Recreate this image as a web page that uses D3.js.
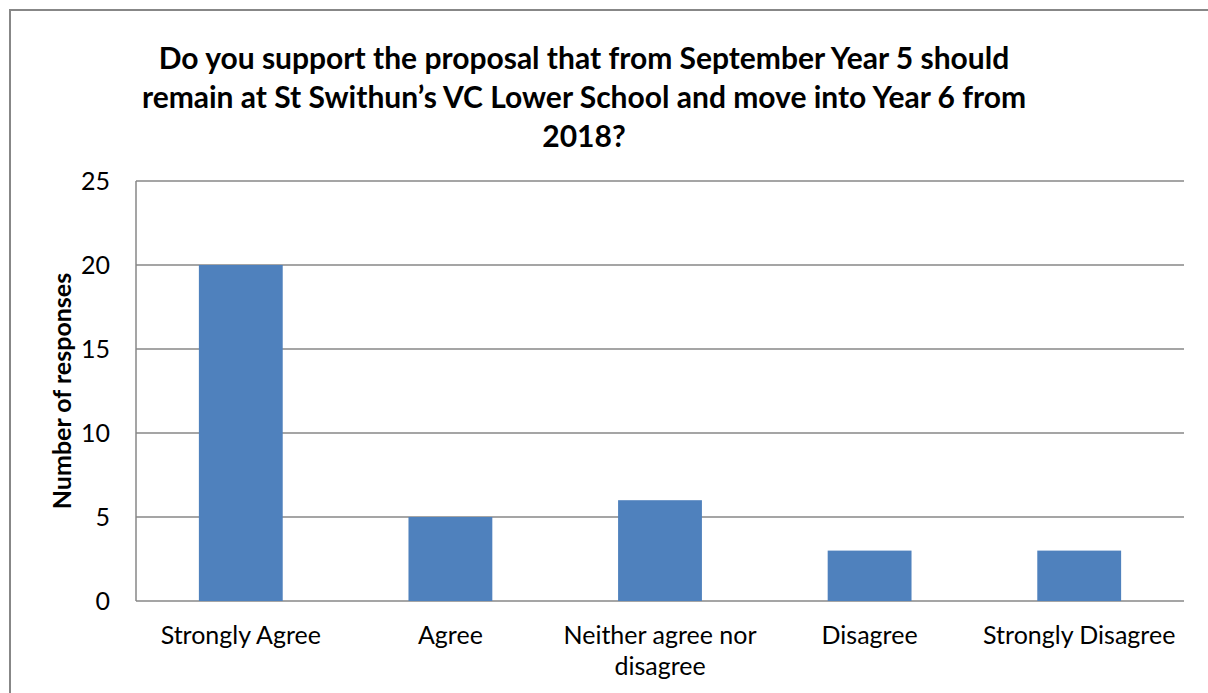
<!DOCTYPE html>
<html>
<head>
<meta charset="utf-8">
<script src="https://cdn.jsdelivr.net/npm/d3@7"></script>
<style>
  body { margin: 0; background: #fff; }
  svg { display: block; }
  text { font-family: Lato, "Noto Sans", sans-serif; fill: #000; }
</style>
</head>
<body>
<svg id="chart" width="1208" height="693"></svg>
<script>
// data
const categories = ["Strongly Agree", "Agree", "Neither agree nor disagree", "Disagree", "Strongly Disagree"];
const responses = [20, 5, 6, 3, 3];
const yTicks = [0, 5, 10, 15, 20, 25];
const titleLines = [
  "Do you support the proposal that from September Year 5 should",
  "remain at St Swithun\u2019s VC Lower School and move into Year 6 from",
  "2018?"
];
const yTitle = "Number of responses";

const svg = d3.select("#chart");
const W = 1208, H = 693;
const plot = { left: 136, right: 1184, top: 181, bottom: 601 };
const gridColor = "#878787";
const barColor = "#4F81BD";

//outer frame (runs off the right and bottom of the picture)
svg.append("rect")
  .attr("x", 10).attr("y", 10)
  .attr("width", W + 20).attr("height", H + 20)
  .attr("fill", "none")
  .attr("stroke", gridColor)
  .attr("stroke-width", 2);

//scales
const x = d3.scaleBand()
  .domain(categories)
  .range([plot.left, plot.right])
  .padding(0);

const y = d3.scaleLinear()
  .domain([0, 25])
  .range([plot.bottom, plot.top]);

//gridlines
svg.append("g")
  .selectAll("line")
  .data(yTicks)
  .enter()
  .append("line")
  .attr("x1", plot.left).attr("x2", plot.right)
  .attr("y1", d => y(d)).attr("y2", d => y(d))
  .attr("stroke", gridColor)
  .attr("stroke-width", 1.5);

//bars - gap width 150%, so bar is 40% of the category
const barW = x.bandwidth() * 0.4;
svg.append("g")
  .selectAll("rect")
  .data(responses)
  .enter()
  .append("rect")
  .attr("x", (d, i) => x(categories[i]) + (x.bandwidth() - barW) / 2)
  .attr("y", d => y(d))
  .attr("width", barW)
  .attr("height", d => y(0) - y(d))
  .attr("fill", barColor);

//y axis line
svg.append("line")
  .attr("x1", plot.left).attr("x2", plot.left)
  .attr("y1", plot.top).attr("y2", plot.bottom)
  .attr("stroke", gridColor)
  .attr("stroke-width", 1.5);

//y axis labels
const yAxis = d3.axisLeft(y).tickValues(yTicks).tickSize(0).tickPadding(26);
svg.append("g")
  .attr("transform", "translate(" + plot.left + ",0)")
  .call(yAxis)
  .call(g => g.select(".domain").remove())
  .selectAll("text")
  .style("font-family", "Lato, 'Noto Sans', sans-serif")
  .style("font-size", "25px")
  .attr("fill", "#000");

//x labels, wrapped
const xLabelLines = d => d.length > 20 ? ["Neither agree nor", "disagree"] : [d];
svg.append("g")
  .selectAll("text")
  .data(categories)
  .enter()
  .append("text")
  .attr("text-anchor", "middle")
  .attr("transform", d => "translate(" + (x(d) + x.bandwidth() / 2) + ",644)")
  .style("font-size", "25px")
  .selectAll("tspan")
  .data(d => xLabelLines(d))
  .enter()
  .append("tspan")
  .attr("x", 0)
  .attr("dy", (d, i) => i === 0 ? 0 : 31)
  .text(d => d);

//title
svg.append("text")
  .attr("text-anchor", "middle")
  .attr("transform", "translate(584,69)")
  .style("font-size", "30px")
  .style("font-weight", "bold")
  .selectAll("tspan")
  .data(titleLines)
  .enter()
  .append("tspan")
  .attr("x", 0)
  .attr("dy", (d, i) => i === 0 ? 0 : 39)
  .text(d => d);

//y title
svg.append("text")
  .attr("text-anchor", "middle")
  .attr("transform", "translate(71,391) rotate(-90)")
  .style("font-size", "25px")
  .style("font-weight", "bold")
  .text(yTitle);
</script>
</body>
</html>
